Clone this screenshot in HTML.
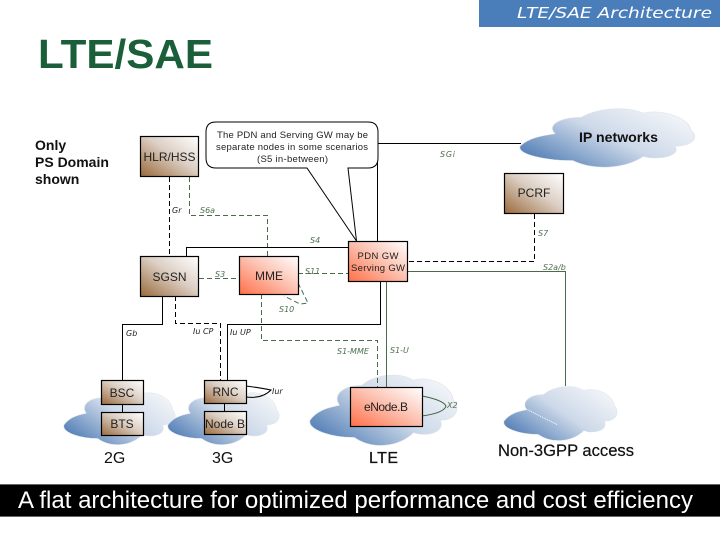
<!DOCTYPE html>
<html><head><meta charset="utf-8"><style>
html,body{margin:0;padding:0;background:#fff}
svg{display:block}
text{font-family:"Liberation Sans",sans-serif}
.lb{font-family:"DejaVu Sans",sans-serif;font-style:italic;font-size:8px;fill:#4f7050}
.lk{font-family:"DejaVu Sans",sans-serif;font-style:italic;font-size:8px;fill:#222}
.n{font-size:12px;fill:#222;text-anchor:middle}
.b{stroke:#000;stroke-width:1;fill:none}
.d{stroke:#000;stroke-width:1;fill:none;stroke-dasharray:5 3}
.g{stroke:#4a6b4a;stroke-width:1;fill:none}
.gd{stroke:#4a6b4a;stroke-width:1;fill:none;stroke-dasharray:5 3}
</style></head><body>
<svg width="720" height="540" viewBox="0 0 720 540" xmlns="http://www.w3.org/2000/svg">
<defs>
<linearGradient id="cl" x1="0" y1="0.8" x2="1" y2="0.1"><stop offset="0" stop-color="#4f7cb5"/><stop offset=".5" stop-color="#cdd9e9"/><stop offset="1" stop-color="#f8f9fb"/></linearGradient>
<linearGradient id="br" x1="0" y1="1" x2="1" y2="0"><stop offset="0" stop-color="#9a6a3c"/><stop offset=".55" stop-color="#dccfc4"/><stop offset="1" stop-color="#fff"/></linearGradient>
<linearGradient id="rd" x1="0" y1="1" x2="1" y2="0"><stop offset="0" stop-color="#ff6f48"/><stop offset=".55" stop-color="#fcc4b4"/><stop offset="1" stop-color="#fff"/></linearGradient>
<path id="cp" d="M0 38C5 30 12 28 20 26C15 18 22 10 35 10C42 2 60-2 70 6C78 2 95 8 97 22C102 30 98 38 88 38C92 48 78 52 70 48C60 60 42 62 30 52C15 52-2 46 0 38Z"/>
</defs>
<rect width="720" height="540" fill="#fff"/>
<rect x="479" y="0" width="241" height="27" fill="#4a7ebb"/>
<text x="517" y="18" style="font-family:'DejaVu Sans',sans-serif;font-style:italic;font-size:15px" fill="#fff" textLength="195" lengthAdjust="spacingAndGlyphs">LTE/SAE Architecture</text>
<text x="38" y="68" font-size="41" font-weight="bold" fill="#1a5e3a" textLength="175" lengthAdjust="spacingAndGlyphs">LTE/SAE</text>
<g font-size="14" font-weight="bold" fill="#111"><text x="35" y="150">Only</text><text x="35" y="167">PS Domain</text><text x="35" y="184">shown</text></g>

<!-- clouds -->
<use href="#cp" transform="translate(520,107) scale(1.76,1.03)" fill="url(#cl)" stroke="#dfe3ea" stroke-width=".5"/>
<use href="#cp" transform="translate(64,388) scale(1.12,.97)" fill="url(#cl)" stroke="#dfe3ea" stroke-width=".5"/>
<use href="#cp" transform="translate(168,388) scale(1.12,.97)" fill="url(#cl)" stroke="#dfe3ea" stroke-width=".5"/>
<use href="#cp" transform="translate(310,373) scale(1.48,1.24)" fill="url(#cl)" stroke="#dfe3ea" stroke-width=".5"/>
<use href="#cp" transform="translate(504,385) scale(1.14,.95)" fill="url(#cl)" stroke="#dfe3ea" stroke-width=".5"/>
<path d="M524 408L558 425" stroke="#fff" stroke-width="1" stroke-dasharray="1 1" fill="none"/>

<!-- connectors -->
<path class="b" d="M378 143.500H521M377.500 160V241"/>
<path class="d" d="M169.500 177V256"/>
<path class="gd" d="M189.500 177V215.500H267.500V256"/>
<path class="b" d="M186.500 256V247.500H348"/>
<path class="gd" d="M199 278.500H238M298 273.500H348"/>
<path class="d" d="M534.500 214V261.500H409"/>
<path class="g" d="M408 271.500H565.500V386"/>
<path class="b" d="M162.500 296V324.500H122.500V380"/>
<path class="d" d="M175.500 296V323.500H220.500V380"/>
<path class="b" d="M227.500 380V324.500H380.500V282"/>
<path class="g" d="M386.500 282V387"/>
<path class="gd" d="M261.500 294V340.500H377.500V387"/>
<path class="gd" d="M298 283L308 303L300 304L284 296"/>
<path class="b" d="M122.500 404V412M224.500 403V411"/>
<path d="M246 386Q262 388 271 390Q262 399 246 397" fill="none" stroke="#000" stroke-width="1"/>
<path d="M422 396Q443 400 446 406Q444 413 422 416" fill="none" stroke="#3f5f40" stroke-width="1"/>

<!-- callout -->
<path d="M216 122H368Q378 122 378 132V158Q378 168 368 168H348L356.500 241L307 168H216Q206 168 206 158V132Q206 122 216 122Z" fill="#fff" stroke="#000" stroke-width="1"/>
<g font-size="9.500" fill="#222" text-anchor="middle"><text x="292.500" y="138" textLength="151">The PDN and Serving GW may be</text><text x="292" y="150" textLength="152">separate nodes in some scenarios</text><text x="292.500" y="162" textLength="71">(S5 in-between)</text></g>

<!-- nodes -->
<g stroke="#000" stroke-width="1.2">
<rect x="140.500" y="136.500" width="58" height="40" fill="url(#br)"/>
<rect x="140.500" y="256.500" width="58" height="40" fill="url(#br)"/>
<rect x="239.500" y="256.500" width="59" height="38" fill="url(#rd)"/>
<rect x="348.500" y="241.500" width="59" height="40" fill="url(#rd)"/>
<rect x="504.500" y="173.500" width="59" height="40" fill="url(#br)"/>
<rect x="101.500" y="380.500" width="42" height="24" fill="url(#br)"/>
<rect x="101.500" y="412.500" width="42" height="23" fill="url(#br)"/>
<rect x="204.500" y="380.500" width="42" height="23" fill="url(#br)"/>
<rect x="204.500" y="411.500" width="42" height="23" fill="url(#br)"/>
<rect x="350.500" y="387.500" width="72" height="39" fill="url(#rd)"/>
</g>
<text class="n" x="169.500" y="161">HLR/HSS</text>
<text class="n" x="169.500" y="281" textLength="34">SGSN</text>
<text class="n" x="269" y="280" textLength="28">MME</text>
<text class="n" x="534" y="197">PCRF</text>
<text class="n" x="122" y="397">BSC</text>
<text class="n" x="122" y="428">BTS</text>
<text class="n" x="225.500" y="396">RNC</text>
<text class="n" x="225" y="428">Node B</text>
<text class="n" x="386" y="411" textLength="44">eNode.B</text>
<g font-size="9.500" fill="#222" text-anchor="middle"><text x="378" y="259" textLength="41">PDN GW</text><text x="378" y="271" textLength="54">Serving GW</text></g>

<!-- labels -->
<text class="lk" x="172" y="213">Gr</text>
<text class="lb" x="200" y="213">S6a</text>
<text class="lb" x="310" y="243">S4</text>
<text class="lb" x="215" y="277">S3</text>
<text class="lb" x="305" y="274">S11</text>
<text class="lb" x="440" y="157" textLength="15">SGi</text>
<text class="lb" x="538" y="236">S7</text>
<text class="lb" x="543" y="270">S2a/b</text>
<text class="lb" x="279" y="312">S10</text>
<text class="lk" x="126" y="336">Gb</text>
<text class="lk" x="193" y="334">Iu CP</text>
<text class="lk" x="230" y="335">Iu UP</text>
<text class="lb" x="337" y="354">S1-MME</text>
<text class="lb" x="390" y="353">S1-U</text>
<text class="lk" x="272" y="394">Iur</text>
<text class="lb" x="447" y="408">X2</text>
<g font-size="16" fill="#111"><text x="104" y="463">2G</text><text x="212" y="463">3G</text></g>
<text x="369" y="463" font-size="16" fill="#111" stroke="#111" stroke-width=".25" textLength="29">LTE</text>
<text x="498" y="456" font-size="16.500" fill="#111" stroke="#111" stroke-width=".2" textLength="136" lengthAdjust="spacingAndGlyphs">Non-3GPP access</text>
<text x="579" y="142" font-size="14" font-weight="bold" fill="#111" textLength="79" lengthAdjust="spacingAndGlyphs">IP networks</text>

<!-- footer -->
<rect x="0" y="484" width="720" height="33" fill="#000"/>
<path d="M0 484.500H720M0 516.500H720" stroke="#666" stroke-width="1"/>
<text x="18" y="508" font-size="24" fill="#fff" textLength="675" lengthAdjust="spacingAndGlyphs">A flat architecture for optimized performance and cost efficiency</text>
</svg>
</body></html>
